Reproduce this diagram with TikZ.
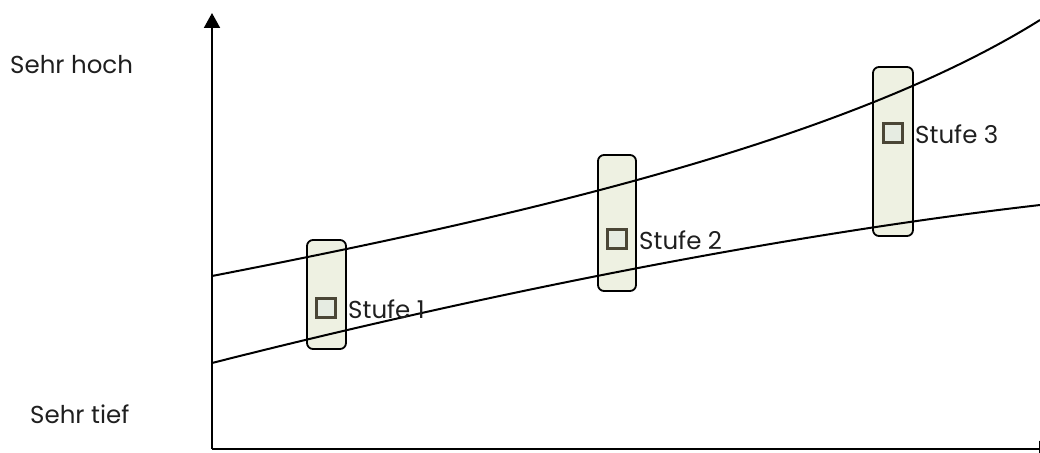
\documentclass[tikz,border=0pt]{standalone}
\usepackage{fontspec}
\setmainfont{Poppins}
\usetikzlibrary{arrows.meta}
\definecolor{boxfill}{HTML}{EEF1E2}
\definecolor{sqborder}{HTML}{4A4636}
\definecolor{sqfill}{HTML}{E6ECE2}
\tikzset{
  axis/.style={line width=2pt,-{Triangle[width=16pt,length=15pt]}},
  curve/.style={line width=2pt},
  stage/.style={draw=black,line width=1.8pt,fill=boxfill,rounded corners=6pt},
  marker/.style={draw=sqborder,line width=2.6pt,fill=sqfill,minimum size=19pt,inner sep=0pt},
  lbl/.style={font=\fontsize{24.5}{30}\selectfont,inner sep=0pt,anchor=west,text=black!88}
}
\begin{document}
\begin{tikzpicture}[x=1pt,y=-1pt]
\useasboundingbox (0,0) rectangle (1040,452);
\clip (0,0) rectangle (1040,452);
\coordinate (O) at (212,449);
\coordinate (Ytop) at (212,13);
\coordinate (Xend) at (1054,449);
\draw[axis] (O) -- (Ytop);
\draw[axis] (O) -- (Xend);
% stage boxes
\draw[stage] (307,240) rectangle (346,349);
\draw[stage] (598,155) rectangle (636,291);
\draw[stage] (873,67) rectangle (913,236);
% curves
\coordinate (u0) at (212,276);
\coordinate (u1) at (1040,20);
\coordinate (l0) at (212,363);
\coordinate (l1) at (1040,205);
\draw[curve] (u0) .. controls (500,220) and (840,145) .. (u1);
\draw[curve] (l0) .. controls (480,295) and (780,235) .. (l1);
% markers
\node[marker] (m1) at (326,308) {};
\node[marker] (m2) at (617,239) {};
\node[marker] (m3) at (893,133) {};
\node[lbl] (s1) at (348,309) {Stufe 1};
\node[lbl] (s2) at (639,240) {Stufe 2};
\node[lbl] (s3) at (915,134) {Stufe 3};
\node[lbl] (hoch) at (10,65) {Sehr hoch};
\node[lbl] (tief) at (30,414) {Sehr tief};
\end{tikzpicture}
\end{document}
